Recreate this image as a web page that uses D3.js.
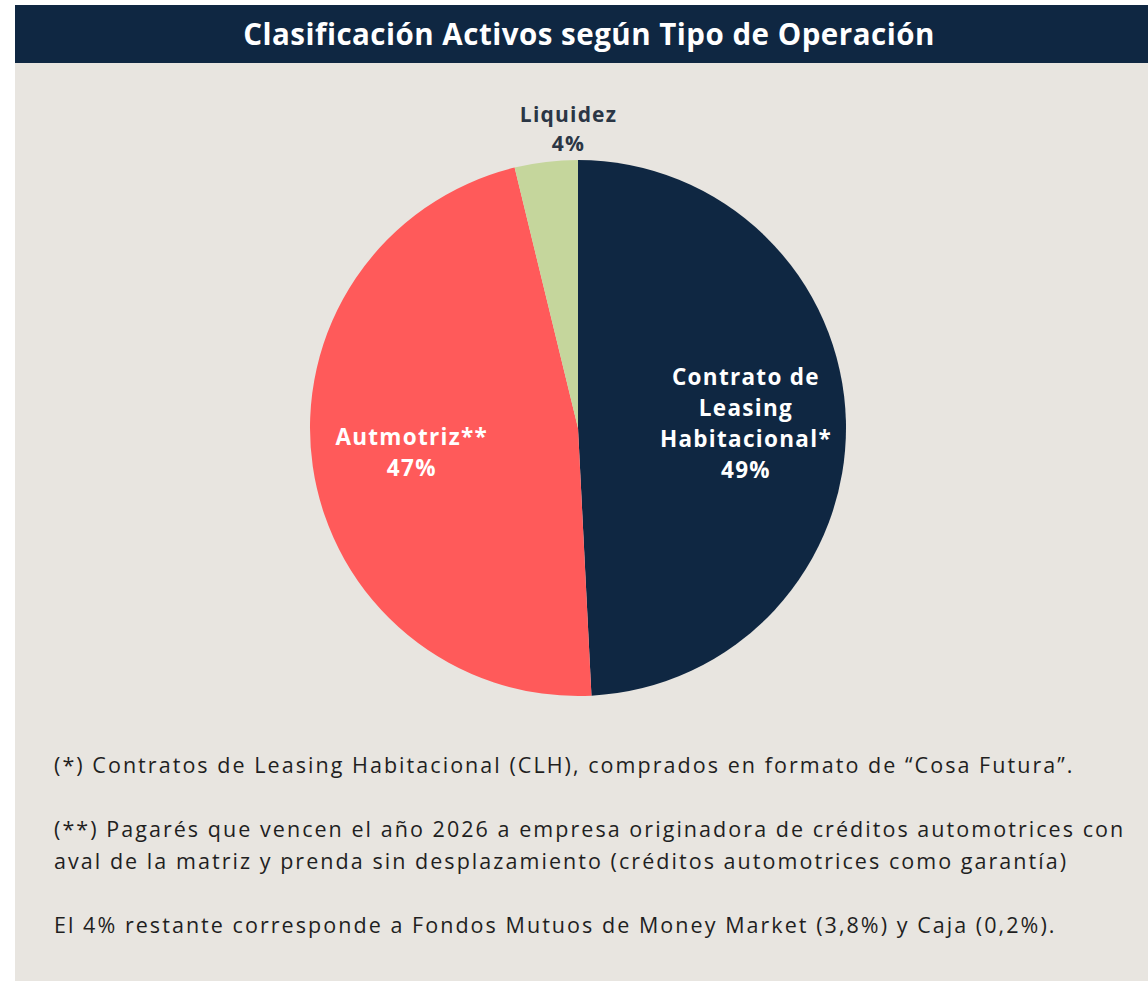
<!DOCTYPE html>
<html>
<head>
<meta charset="utf-8">
<script src="https://cdn.jsdelivr.net/npm/d3@7"></script>
<style>
  body { margin: 0; background: #fff; }
  svg { display: block; }
</style>
</head>
<body>
<div id="pie-chart"></div>
<script>
// slice data, clockwise from 12 o'clock
const categories = ["Contrato de Leasing Habitacional*", "Automotriz**", "Liquidez"];
const labelLines = [["Contrato de", "Leasing", "Habitacional*"], ["Autmotriz**"], ["Liquidez"]];
const values = [49.2, 47.0, 3.8];
const pctLabels = ["49%", "47%", "4%"];
const colors = ["#0f2742", "#ff5a5a", "#c5d69c"];

const title = "Clasificación Activos según Tipo de Operación";
const notes = [
  "(*) Contratos de Leasing Habitacional (CLH), comprados en formato de “Cosa Futura”.",
  "",
  "(**) Pagarés que vencen el año 2026 a empresa originadora de créditos automotrices con",
  "aval de la matriz y prenda sin desplazamiento (créditos automotrices como garantía)",
  "",
  "El 4% restante corresponde a Fondos Mutuos de Money Market (3,8%) y Caja (0,2%)."
];

(function pie() {
  let width = 1148,
      height = 981,
      cx = 578, cy = 428, radius = 268;

  const font = "'Open Sans', 'Noto Sans', sans-serif";

  const svg = d3.select("#pie-chart")
    .append("svg")
    .attr("width", width)
    .attr("height", height)
    .attr("viewBox", [0, 0, width, height]);

  // panel + title bar
  svg.append("rect")
    .attr("x", 15).attr("y", 5)
    .attr("width", width - 15).attr("height", height - 5)
    .attr("fill", "#e8e5e0");

  svg.append("rect")
    .attr("x", 15).attr("y", 5)
    .attr("width", width - 15).attr("height", 58)
    .attr("fill", "#0f2742");

  svg.append("text")
    .attr("x", 589).attr("y", 45)
    .attr("text-anchor", "middle")
    .attr("fill", "#ffffff")
    .attr("font-family", font)
    .attr("font-weight", 700)
    .attr("font-size", 29.5)
    .attr("letter-spacing", 0.5)
    .text(title);

  const data = categories.map((c, i) => ({ name: c, value: values[i], i: i }));

  const pieGen = d3.pie()
    .value(d => d.value)
    .sort(null);

  const arcs = pieGen(data);

  const arc = d3.arc().innerRadius(0).outerRadius(radius);
  const labelArc = d3.arc().innerRadius(168).outerRadius(168);
  const outerArc = d3.arc().innerRadius(298).outerRadius(298);

  const g = svg.append("g")
    .attr("transform", `translate(${cx},${cy})`);

  g.selectAll("path")
    .data(arcs)
    .join("path")
    .attr("d", arc)
    .attr("fill", d => colors[d.data.i]);

  // labels: inside for the big slices, above the pie for the small one
  g.selectAll("text.lbl")
    .data(arcs)
    .join("text")
    .attr("class", "lbl")
    .attr("text-anchor", "middle")
    .attr("font-family", font)
    .attr("font-weight", 700)
    .attr("font-size", d => d.data.i === 2 ? 21 : 22.5)
    .attr("letter-spacing", d => d.data.i === 2 ? 1.2 : 1.3)
    .attr("fill", d => d.data.i === 2 ? "#2b3645" : "#ffffff")
    .each(function(d) {
      const lines = labelLines[d.data.i].concat([pctLabels[d.data.i]]);
      const lineH = d.data.i === 2 ? 29 : 31;
      let [x, y] = d.data.i === 2 ? outerArc.centroid(d) : labelArc.centroid(d);
      if (d.data.i === 2) { x += 26; y -= 3; }
      const top = y - (lines.length - 1) * lineH / 2;
      const t = d3.select(this);
      lines.forEach((s, k) => {
        t.append("tspan")
          .attr("x", x)
          .attr("y", top + k * lineH)
          .attr("dy", "0.35em")
          .text(s);
      });
    });

  // footnotes
  svg.append("g")
    .selectAll("text")
    .data(notes)
    .join("text")
    .attr("x", 54)
    .attr("y", (d, i) => 765 + i * 32)
    .attr("dy", "0.35em")
    .attr("fill", "#1f1f1f")
    .attr("font-family", font)
    .attr("font-size", 21.5)
    .attr("letter-spacing", 2.05)
    .text(d => d);
})();
</script>
</body>
</html>
